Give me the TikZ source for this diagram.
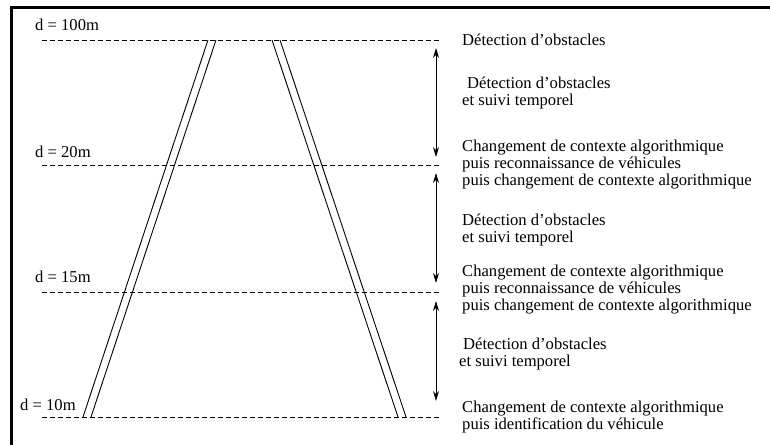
\documentclass[tikz,border=0pt]{standalone}
\usepackage{fontspec}
\setmainfont{Liberation Serif}
\usetikzlibrary{arrows.meta}
\begin{document}
\begin{tikzpicture}[x=1pt,y=-1pt,
  txt/.style={inner sep=0pt,anchor=west,align=left,font=\fontsize{16.6}{17}\selectfont},
  dlabel/.style={inner sep=0pt,anchor=west,font=\fontsize{16.6}{17}\selectfont},
  level/.style={line width=0.8pt,dash pattern=on 4.5pt off 3.5pt},
  road/.style={line width=0.9pt},
  span/.style={line width=0.9pt,{Stealth[length=10pt,width=6pt]}-{Stealth[length=10pt,width=6pt]}},
  frame/.style={line width=3pt}]
\useasboundingbox (0,0) rectangle (770,445);

% frame edges (top and left)
\coordinate (fa) at (11,445);
\coordinate (fb) at (11,7.5);
\coordinate (fc) at (770,7.5);
\draw[frame] (fa) -- (fb) -- (fc);

% distance levels
\coordinate (l100a) at (42,40);  \coordinate (l100b) at (442,40);
\coordinate (l20a)  at (42,165); \coordinate (l20b)  at (442,165);
\coordinate (l15a)  at (42,292); \coordinate (l15b)  at (442,292);
\coordinate (l10a)  at (42,417); \coordinate (l10b)  at (442,417);
\draw[level] (l100a) -- (l100b);
\draw[level] (l20a) -- (l20b);
\draw[level] (l15a) -- (l15b);
\draw[level] (l10a) -- (l10b);

\node[dlabel] (d100) at (35,25)  {d = 100m};
\node[dlabel] (d20)  at (35,152) {d = 20m};
\node[dlabel] (d15)  at (35,277) {d = 15m};
\node[dlabel] (d10)  at (20,405) {d = 10m};

% road edges in perspective
\coordinate (la1) at (208,40); \coordinate (lb1) at (83,417);
\coordinate (la2) at (216,40); \coordinate (lb2) at (91,417);
\coordinate (ra1) at (272,40); \coordinate (rb1) at (398,417);
\coordinate (ra2) at (280,40); \coordinate (rb2) at (406,417);
\draw[road] (la1) -- (lb1);
\draw[road] (la2) -- (lb2);
\draw[road] (ra1) -- (rb1);
\draw[road] (ra2) -- (rb2);

% processing intervals
\coordinate (s1a) at (436,48);  \coordinate (s1b) at (436,157);
\coordinate (s2a) at (436,173); \coordinate (s2b) at (436,283);
\coordinate (s3a) at (436,301); \coordinate (s3b) at (436,401);
\draw[span] (s1a) -- (s1b);
\draw[span] (s2a) -- (s2b);
\draw[span] (s3a) -- (s3b);

% descriptions
\node[txt] (t1) at (462,40)  {Détection d’obstacles};
\node[txt] (t2) at (462,93)  {\hspace{5pt}Détection d’obstacles\\et suivi temporel};
\node[txt] (t3) at (462,165) {Changement de contexte algorithmique\\puis reconnaissance de véhicules\\puis changement de contexte algorithmique};
\node[txt] (t4) at (462,230) {Détection d’obstacles\\et suivi temporel};
\node[txt] (t5) at (462,290) {Changement de contexte algorithmique\\puis reconnaissance de véhicules\\puis changement de contexte algorithmique};
\node[txt] (t6) at (459,354) {\hspace{4pt}Détection d’obstacles\\et suivi temporel};
\node[txt] (t7) at (462,417) {Changement de contexte algorithmique\\puis identification du véhicule};
\end{tikzpicture}
\end{document}
